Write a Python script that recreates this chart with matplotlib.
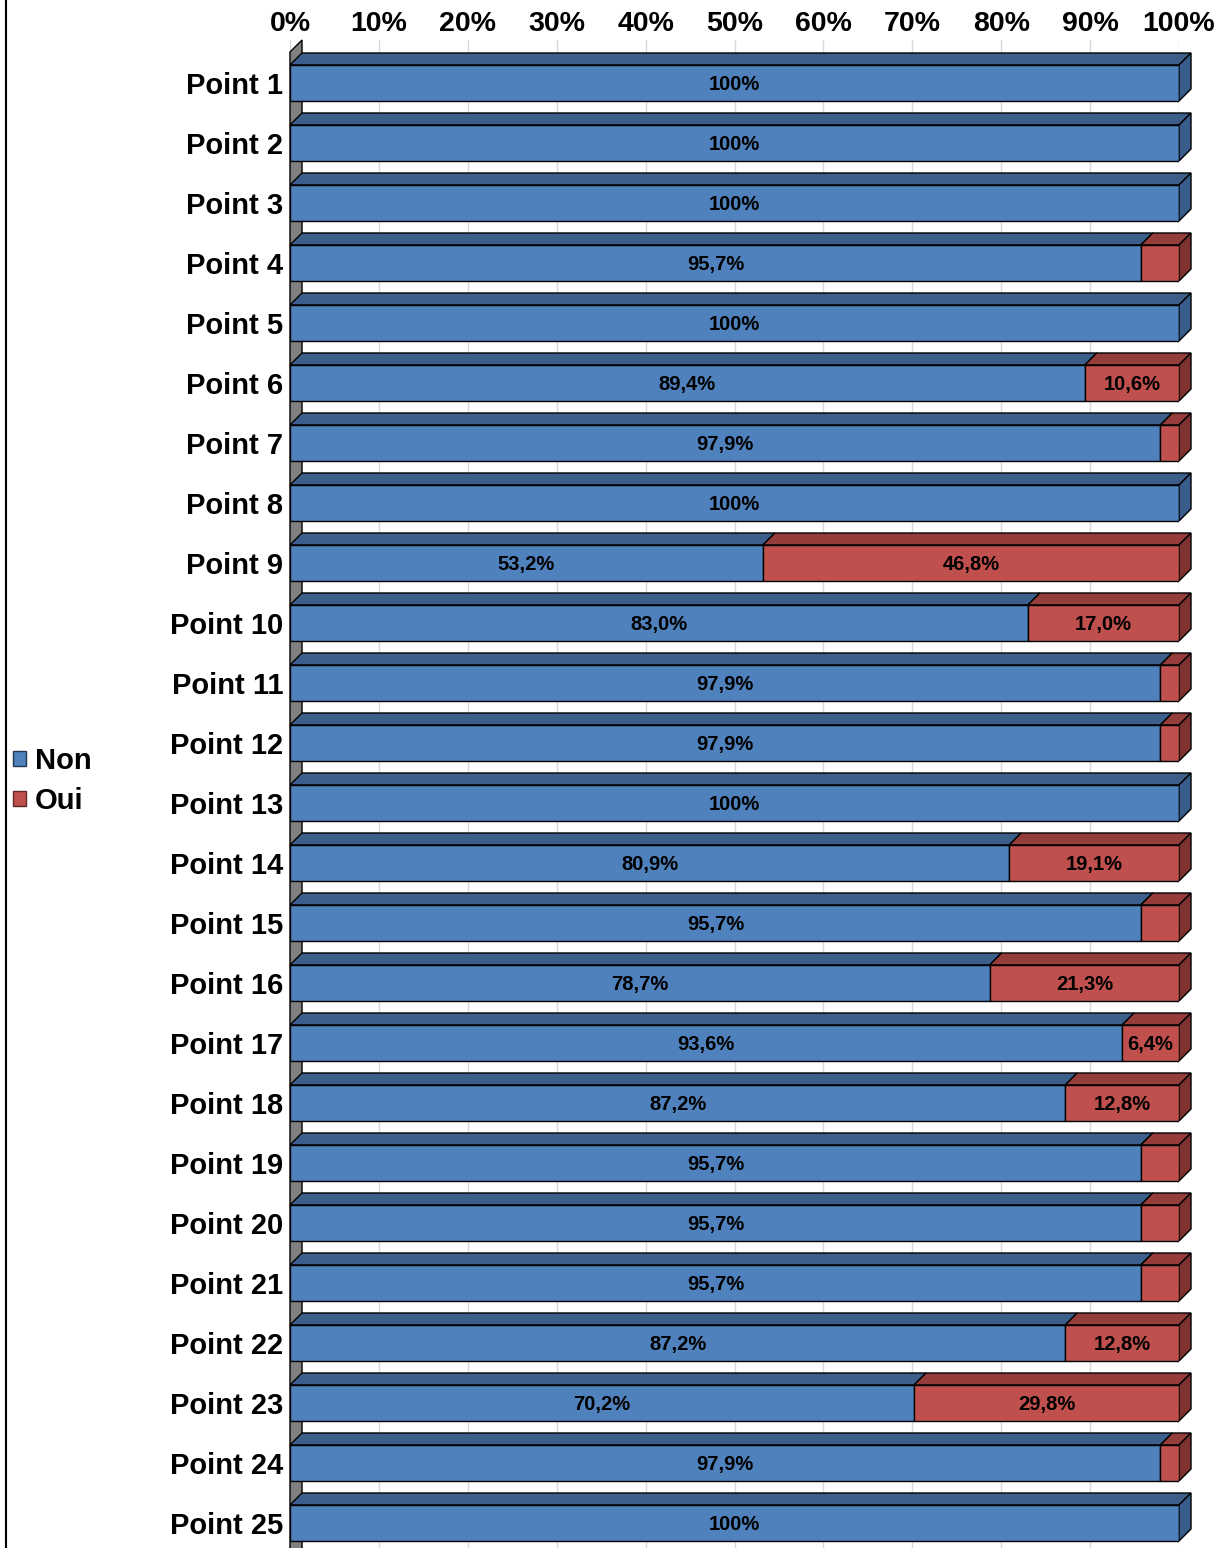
import matplotlib.pyplot as plt
from matplotlib.patches import Polygon, Patch
from matplotlib.lines import Line2D

# Data
points = [f"Point {i}" for i in range(1, 26)]
non = [100, 100, 100, 95.7, 100, 89.4, 97.9, 100, 53.2, 83.0, 97.9, 97.9, 100,
       80.9, 95.7, 78.7, 93.6, 87.2, 95.7, 95.7, 95.7, 87.2, 70.2, 97.9, 100]
oui = [0, 0, 0, 4.3, 0, 10.6, 2.1, 0, 46.8, 17.0, 2.1, 2.1, 0,
       19.1, 4.3, 21.3, 6.4, 12.8, 4.3, 4.3, 4.3, 12.8, 29.8, 2.1, 0]
xticks = list(range(0, 101, 10))

plt.rcParams["font.family"] = ["Liberation Sans", "DejaVu Sans"]
plt.rcParams["font.weight"] = "bold"

W, H = 1228, 1548
fig = plt.figure(figsize=(W / 100, H / 100), dpi=100)

# axes box in pixels
x0, x1 = 290, 1179
y_top, y_bot = 40, 1548
ax = fig.add_axes([x0 / W, 0, (x1 - x0) / W, (H - y_top) / H])

step = 60.0
first_center = 83
ylim_top = -(first_center - y_top) / step
ylim_bot = (y_bot - first_center) / step
ax.set_xlim(0, 100)
ax.set_ylim(ylim_bot, ylim_top)

dx = 12 / (x1 - x0) * 100   # depth offset in data units
dy = 12 / step
half = 18 / step

blue = ("#4f81bd", "#3d5f8b", "#385d8a")
red = ("#c0504d", "#943d3b", "#7e3331")

# gridlines
for t in xticks:
    ax.axvline(t, color="#d9d9d9", lw=1, zorder=0)

# left wall
ax.add_patch(Polygon([(0, ylim_top + dy), (dx, ylim_top), (dx, ylim_bot + 1),
                      (0, ylim_bot + 1)], closed=True, facecolor="#808080",
                     edgecolor="black", lw=1, zorder=1, clip_on=False))

ys = list(range(len(points)))

ax.barh(ys, non, height=2 * half, color=blue[0], edgecolor="black", lw=1, zorder=3)
ax.barh(ys, oui, left=non, height=2 * half, color=red[0], edgecolor="black", lw=1, zorder=3)


def fmt(v):
    if v == 100:
        return "100%"
    return f"{v:.1f}".replace(".", ",") + "%"


for y, n, o in zip(ys, non, oui):
    top = y - half
    bot = y + half
    segs = [(0, n, blue)]
    if o > 0:
        segs.append((n, n + o, red))
    for l, r, cols in segs:
        ax.add_patch(Polygon([(l, top), (r, top), (r + dx, top - dy), (l + dx, top - dy)],
                             closed=True, facecolor=cols[1], edgecolor="black",
                             lw=1, zorder=2, clip_on=False))
    side = segs[-1][2]
    ax.add_patch(Polygon([(100, top), (100 + dx, top - dy), (100 + dx, bot - dy), (100, bot)],
                         closed=True, facecolor=side[2], edgecolor="black",
                         lw=1, zorder=2, clip_on=False))
    ax.text(n / 2, y + 0.03, fmt(n), ha="center", va="center", fontsize=14.5,
            fontweight="bold", zorder=5)
    if o >= 5:
        ax.text(n + o / 2, y + 0.03, fmt(o), ha="center", va="center", fontsize=14.5,
                fontweight="bold", zorder=5)

ax.xaxis.tick_top()
ax.set_xticks(xticks)
ax.set_xticklabels([f"{t}%" for t in xticks], fontsize=20.5, fontweight="bold")
ax.set_yticks(ys)
ax.set_yticklabels(points, fontsize=21, fontweight="bold")
ax.tick_params(axis="both", length=0)
ax.tick_params(axis="x", pad=2)
ax.tick_params(axis="y", pad=5)
for s in ax.spines.values():
    s.set_visible(False)

# legend
handles = [Patch(facecolor=blue[0], edgecolor="#1f3550", lw=1),
           Patch(facecolor=red[0], edgecolor="#5e2624", lw=1)]
fig.legend(handles, ["Non", "Oui"], loc="center left",
           bbox_to_anchor=(-13 / W, 1 - 781 / H), frameon=False,
           handlelength=0.43, handleheight=0.43, handletextpad=0.3,
           labelspacing=0.4, prop={"size": 21, "weight": "bold"})

# left border line
fig.add_artist(Line2D([6 / W, 6 / W], [0, 1], transform=fig.transFigure,
                      color="black", lw=1.5))

fig.savefig("out.png", dpi=100)
